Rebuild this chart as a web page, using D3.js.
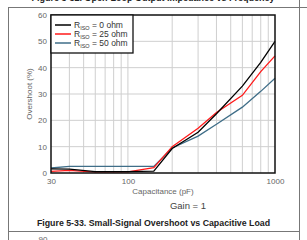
<!DOCTYPE html>
<html>
<head>
<meta charset="utf-8">
<script src="https://cdn.jsdelivr.net/npm/d3@7"></script>
<style>
  body { margin: 0; background: #fff; }
  svg { display: block; font-family: "Liberation Sans", Arial, sans-serif; }
</style>
</head>
<body>
<svg id="chart" width="307" height="240"></svg>
<script>
// values
const capacitance = [30, 40, 60, 100, 150, 200, 300, 400, 600, 800, 1000];
const riso0 = [1.6, 1.5, 0.5, 0.5, 0.7, 9.3, 15.5, 22.5, 33, 42, 50];
const riso25 = [0.6, 1.0, 0.3, 0.4, 2.0, 10, 17, 23, 29.5, 38.5, 44.5];
const riso50 = [1.9, 2.5, 2.5, 2.5, 2.5, 9.5, 14, 18.5, 25, 31, 36];
const seriesNames = ['0 ohm', '25 ohm', '50 ohm'];
const xTicks = [30, 100, 1000];
const yTicks = [0, 10, 20, 30, 40, 50, 60];
const xGrid = [40, 50, 60, 70, 80, 90, 100, 200, 300, 400, 500, 600, 700, 800, 900];

const svg = d3.select('#chart');
const plotL = 51, plotR = 275, plotT = 15, plotB = 173;

const x = d3.scaleLog().domain([30, 1000]).range([plotL, plotR]);
const y = d3.scaleLinear().domain([0, 60]).range([plotB, plotT]);

// page frame
svg.append('line').attr('x1', 8).attr('x2', 307).attr('y1', 7.5).attr('y2', 7.5)
  .attr('stroke', '#777').attr('stroke-width', 1);
svg.append('line').attr('x1', 8.5).attr('x2', 8.5).attr('y1', 7).attr('y2', 240)
  .attr('stroke', '#777').attr('stroke-width', 1);
svg.append('line').attr('x1', 299.5).attr('x2', 299.5).attr('y1', 0).attr('y2', 240)
  .attr('stroke', '#777').attr('stroke-width', 1);
svg.append('line').attr('x1', 8).attr('x2', 300).attr('y1', 231.5).attr('y2', 231.5)
  .attr('stroke', '#777').attr('stroke-width', 1);

// cut-off caption of the previous figure (only its lower edge shows)
svg.append('text').attr('x', 153).attr('y', 0.5).attr('text-anchor', 'middle')
  .attr('font-size', 9).attr('font-weight', 'bold').attr('fill', '#222')
  .text('Figure 5-32. Open-Loop Output Impedance vs Frequency');
// cut-off tick of the next figure
svg.append('text').attr('x', 43).attr('y', 242).attr('text-anchor', 'middle')
  .attr('font-size', 8).attr('fill', '#666').text('90');

// grid
const grid = svg.append('g');
grid.selectAll('.vg').data(xGrid).join('line')
  .attr('x1', d => x(d)).attr('x2', d => x(d))
  .attr('y1', plotT).attr('y2', plotB)
  .attr('stroke', '#cfcfcf').attr('stroke-width', 1);
grid.selectAll('.hg').data(yTicks.slice(1, -1)).join('line')
  .attr('x1', plotL).attr('x2', plotR)
  .attr('y1', d => y(d)).attr('y2', d => y(d))
  .attr('stroke', '#cfcfcf').attr('stroke-width', 1);

// axes (labels only)
const xAxis = svg.append('g').attr('transform', `translate(0,${plotB})`)
  .call(d3.axisBottom(x).tickValues(xTicks).tickSize(0).tickPadding(5).tickFormat(d3.format('d')));
const yAxis = svg.append('g').attr('transform', `translate(${plotL},0)`)
  .call(d3.axisLeft(y).tickValues(yTicks).tickSize(0).tickPadding(4));
[xAxis, yAxis].forEach(a => {
  a.select('.domain').remove();
  a.selectAll('text').attr('fill', '#666').attr('font-size', 8)
    .attr('font-family', '"Liberation Sans", Arial, sans-serif');
});

svg.append('text').attr('x', (plotL + plotR) / 2).attr('y', 194).attr('text-anchor', 'middle')
  .attr('font-size', 8).attr('fill', '#666').text('Capacitance (pF)');
svg.append('text').attr('transform', `translate(32,${(plotT + plotB) / 2}) rotate(-90)`)
  .attr('text-anchor', 'middle').attr('font-size', 8).attr('fill', '#666').text('Overshoot (%)');

// series
const colors = ['#000000', '#ff1a1a', '#3f6e88'];
const seriesData = [riso0, riso25, riso50];
const line = d3.line().x(d => x(d[0])).y(d => y(d[1]));
seriesData.slice().reverse().forEach((vals, i) => {
  const idx = seriesData.length - 1 - i;
  svg.append('path')
    .datum(capacitance.map((c, j) => [c, vals[j]]))
    .attr('d', line)
    .attr('fill', 'none')
    .attr('stroke', colors[idx])
    .attr('stroke-width', 1.3);
});

// plot border
svg.append('rect').attr('x', plotL).attr('y', plotT)
  .attr('width', plotR - plotL).attr('height', plotB - plotT)
  .attr('fill', 'none').attr('stroke', '#111').attr('stroke-width', 1.5);

// legend
const legend = svg.append('g');
legend.append('rect').attr('x', plotL).attr('y', plotT).attr('width', 82).attr('height', 38)
  .attr('fill', '#fff').attr('stroke', '#111').attr('stroke-width', 1.3);
seriesNames.forEach((name, i) => {
  const ly = 25 + i * 9;
  legend.append('line').attr('x1', 55).attr('x2', 71).attr('y1', ly).attr('y2', ly)
    .attr('stroke', colors[i]).attr('stroke-width', 1.5);
  const t = legend.append('text').attr('x', 74).attr('y', ly + 3)
    .attr('font-size', 8.5).attr('fill', '#333');
  t.append('tspan').text('R');
  t.append('tspan').attr('font-size', 5.5).attr('dy', 1.5).text('ISO');
  t.append('tspan').attr('dy', -1.5).text(' = ' + name);
});

// bottom texts
svg.append('text').attr('x', 188).attr('y', 209).attr('text-anchor', 'middle')
  .attr('font-size', 9.5).attr('fill', '#444').text('Gain = 1');
svg.append('text').attr('x', 153.5).attr('y', 225.5).attr('text-anchor', 'middle')
  .attr('font-size', 8.8).attr('font-weight', 'bold').attr('fill', '#222')
  .text('Figure 5-33. Small-Signal Overshoot vs Capacitive Load');
</script>
</body>
</html>
